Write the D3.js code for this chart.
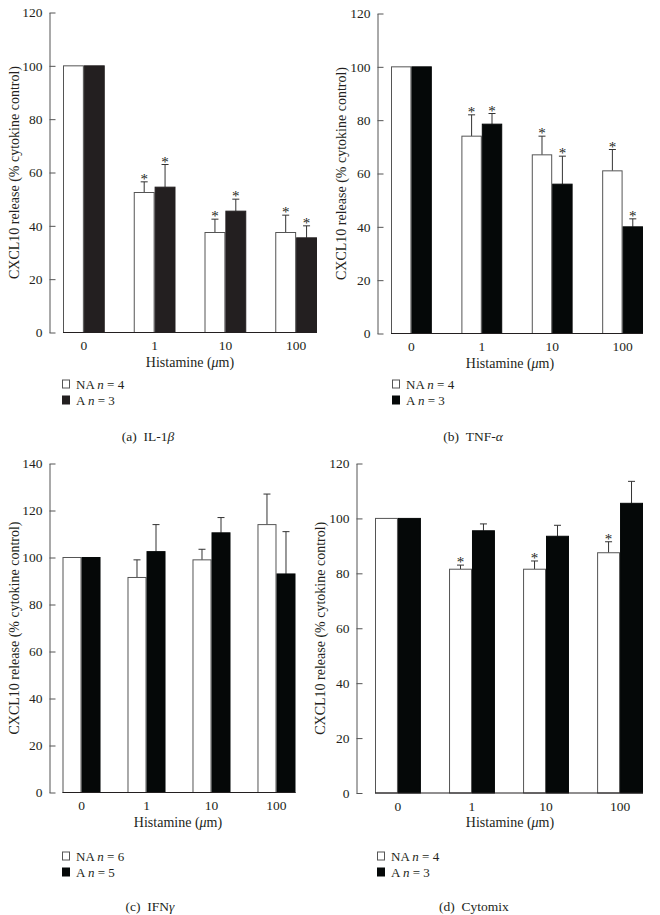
<!DOCTYPE html>
<html>
<head>
<meta charset="utf-8">
<script src="https://cdn.jsdelivr.net/npm/d3@7"></script>
<style>
  html, body { margin: 0; padding: 0; background: #fff; }
  svg { display: block; }
  text { font-family: "Liberation Serif", "DejaVu Serif", serif; fill: #231f20; }
</style>
</head>
<body>
<svg id="chart" width="660" height="915"></svg>
<script>
// ---- data ----
const groups = ["0", "1", "10", "100"];

const il1bNA = [100, 52.5, 37.5, 37.5];
const il1bNAerr = [0, 4, 5, 6.5];
const il1bA = [100, 54.5, 45.5, 35.5];
const il1bAerr = [0, 8.5, 4.5, 4.5];
const il1bNAstar = [false, true, true, true];
const il1bAstar = [false, true, true, true];

const tnfNA = [100, 74, 67, 61];
const tnfNAerr = [0, 8, 7, 8];
const tnfA = [100, 78.5, 56, 40];
const tnfAerr = [0, 4, 10.5, 3];
const tnfNAstar = [false, true, true, true];
const tnfAstar = [false, true, true, true];

const ifnNA = [100, 91.5, 99, 114];
const ifnNAerr = [0, 7.5, 4.5, 13];
const ifnA = [100, 102.5, 110.5, 93];
const ifnAerr = [0, 11.5, 6.5, 18];
const ifnNAstar = [false, false, false, false];
const ifnAstar = [false, false, false, false];

const cytoNA = [100, 81.5, 81.5, 87.5];
const cytoNAerr = [0, 1.5, 3, 4];
const cytoA = [100, 95.5, 93.5, 105.5];
const cytoAerr = [0, 2.5, 4, 8];
const cytoNAstar = [false, true, true, true];
const cytoAstar = [false, false, false, false];

const ticksA = [0, 20, 40, 60, 80, 100, 120];
const ticksC = [0, 20, 40, 60, 80, 100, 120, 140];

const legendNA = ["NA n = 4", "NA n = 4", "NA n = 6", "NA n = 4"];
const legendA = ["A n = 3", "A n = 3", "A n = 5", "A n = 3"];
const captions = ["(a) IL-1β", "(b) TNF-α", "(c) IFNγ", "(d) Cytomix"];
const yTitle = "CXCL10 release (% cytokine control)";

// ---- layout (positions / styles only) ----
const panels = [
  { na: il1bNA, naErr: il1bNAerr, a: il1bA, aErr: il1bAerr, naStar: il1bNAstar, aStar: il1bAstar,
    ticks: ticksA, yMax: 120, axisX: 49.5, yTop: 12.5, yBot: 332.5, x0: 63, x1: 317, pad: 0.41,
    black: "#231f20", legX: 62, legY: 384, capX: 148, capY: 436, titleX: 190, ylabX: 14, idx: 0 },
  { na: tnfNA, naErr: tnfNAerr, a: tnfA, aErr: tnfAerr, naStar: tnfNAstar, aStar: tnfAstar,
    ticks: ticksA, yMax: 120, axisX: 377.5, yTop: 13.5, yBot: 333.5, x0: 391, x1: 643, pad: 0.42,
    black: "#050808", legX: 392, legY: 384, capX: 473, capY: 436, titleX: 510, ylabX: 341, idx: 1 },
  { na: ifnNA, naErr: ifnNAerr, a: ifnA, aErr: ifnAerr, naStar: ifnNAstar, aStar: ifnAstar,
    ticks: ticksC, yMax: 140, axisX: 49.5, yTop: 463.5, yBot: 792.5, x0: 62.5, x1: 295.5, pad: 0.415,
    black: "#050808", legX: 62, legY: 856, capX: 150, capY: 906, titleX: 178, ylabX: 14, idx: 2 },
  { na: cytoNA, naErr: cytoNAerr, a: cytoA, aErr: cytoAerr, naStar: cytoNAstar, aStar: cytoAstar,
    ticks: ticksA, yMax: 120, axisX: 356.5, yTop: 463.5, yBot: 793, x0: 375, x1: 643, pad: 0.38,
    black: "#050808", legX: 377, legY: 856, capX: 474, capY: 906, titleX: 510, ylabX: 320, idx: 3 }
];

const svg = d3.select("#chart");
const ink = "#231f20";
const FONT = "'Liberation Serif', 'DejaVu Serif', serif";

panels.forEach(p => {
  const g = svg.append("g");
  const y = d3.scaleLinear().domain([0, p.yMax]).range([p.yBot, p.yTop]);
  const x = d3.scaleBand().domain(groups).range([p.x0, p.x1]).paddingInner(p.pad).paddingOuter(0);
  const xs = d3.scaleBand().domain(["NA", "A"]).range([0, x.bandwidth()]);

  // y axis
  const yAxis = d3.axisLeft(y).tickValues(p.ticks).tickSize(-6).tickSizeOuter(0).tickPadding(7).tickFormat(d3.format("d"));
  const ya = g.append("g").attr("transform", `translate(${p.axisX},0)`).call(yAxis);
  ya.attr("font-family", null).attr("font-size", null);
  ya.select(".domain").attr("stroke", "#555").attr("stroke-width", 1);
  ya.selectAll(".tick line").attr("stroke", "#555").attr("stroke-width", 1);
  ya.selectAll(".tick text").style("font-size", "13.5px").style("font-family", FONT).attr("fill", ink);

  const series = [
    { key: "NA", vals: p.na, err: p.naErr, star: p.naStar, fill: "#ffffff", stroke: "#555" },
    { key: "A", vals: p.a, err: p.aErr, star: p.aStar, fill: p.black, stroke: p.black }
  ];
  series.forEach(s => {
    const gs = g.append("g");
    groups.forEach((grp, i) => {
      const cx = x(grp) + xs(s.key) + xs.bandwidth() / 2;
      if (s.err[i] > 0) {
        gs.append("line").attr("x1", cx).attr("x2", cx)
          .attr("y1", y(s.vals[i])).attr("y2", y(s.vals[i] + s.err[i]))
          .attr("stroke", "#333").attr("stroke-width", 1);
        gs.append("line").attr("x1", cx - 3.5).attr("x2", cx + 3.5)
          .attr("y1", y(s.vals[i] + s.err[i])).attr("y2", y(s.vals[i] + s.err[i]))
          .attr("stroke", "#333").attr("stroke-width", 1);
      }
      if (s.star[i]) {
        gs.append("text").attr("x", cx).attr("y", y(s.vals[i] + s.err[i]) + 2)
          .attr("text-anchor", "middle").style("font-size", "15px").style("font-family", FONT)
          .attr("fill", ink).text("*");
      }
    });
    gs.selectAll("rect").data(s.vals).join("rect")
      .attr("x", (d, i) => x(groups[i]) + xs(s.key) + 0.5)
      .attr("width", xs.bandwidth() - 1)
      .attr("y", d => y(d))
      .attr("height", d => p.yBot - y(d))
      .attr("fill", s.fill)
      .attr("stroke", s.stroke)
      .attr("stroke-width", 1);
  });

  // x baseline and tick labels
  g.append("line").attr("x1", p.x0).attr("x2", p.x1).attr("y1", p.yBot).attr("y2", p.yBot)
    .attr("stroke", ink).attr("stroke-width", 1.2);
  const xAxis = d3.axisBottom(x).tickSize(0).tickPadding(8);
  const xa = g.append("g").attr("transform", `translate(0,${p.yBot})`).call(xAxis);
  xa.attr("font-family", null).attr("font-size", null);
  xa.select(".domain").remove();
  xa.selectAll(".tick text").style("font-size", "13.5px").style("font-family", FONT).attr("fill", ink);

  // axis titles
  const xt = g.append("text").attr("x", p.titleX).attr("y", p.yBot + 34)
    .attr("text-anchor", "middle").style("font-size", "14px").style("font-family", FONT);
  xt.append("tspan").text("Histamine (");
  xt.append("tspan").attr("font-style", "italic").text("μ");
  xt.append("tspan").text("m)");

  g.append("text")
    .attr("transform", `translate(${p.ylabX},${(p.yTop + p.yBot) / 2}) rotate(-90)`)
    .attr("text-anchor", "middle").attr("dominant-baseline", "central")
    .style("font-size", "14px").style("font-family", FONT).text(yTitle);

  // legend
  const lg = g.append("g").attr("transform", `translate(${p.legX},${p.legY})`);
  const legendRows = [
    { label: legendNA[p.idx], fill: "#fff", stroke: "#555" },
    { label: legendA[p.idx], fill: p.black, stroke: p.black }
  ];
  legendRows.forEach((r, k) => {
    const ry = k * 16;
    lg.append("rect").attr("x", 0.5).attr("y", ry - 4).attr("width", 7).attr("height", 8)
      .attr("fill", r.fill).attr("stroke", r.stroke).attr("stroke-width", 1);
    const parts = r.label.split(" n ");
    const t = lg.append("text").attr("x", 14).attr("y", ry + 4.5)
      .style("font-size", "13px").style("font-family", FONT);
    t.append("tspan").text(parts[0] + " ");
    t.append("tspan").attr("font-style", "italic").text("n");
    t.append("tspan").text(" " + parts[1]);
  });

  // caption
  const cap = captions[p.idx];
  const ct = g.append("text").attr("x", p.capX).attr("y", p.capY + 4.5)
    .attr("text-anchor", "middle").style("font-size", "13.5px").style("font-family", FONT);
  const m = cap.match(/^(\(\w\))\s(.*)$/);
  ct.append("tspan").text(m[1] + "\u2002");
  const body = m[2];
  const greek = body.match(/[βαγ]/);
  if (greek) {
    const gi = body.indexOf(greek[0]);
    ct.append("tspan").text(body.slice(0, gi));
    ct.append("tspan").attr("font-style", "italic").text(greek[0]);
    ct.append("tspan").text(body.slice(gi + 1));
  } else {
    ct.append("tspan").text(body);
  }
});
</script>
</body>
</html>
